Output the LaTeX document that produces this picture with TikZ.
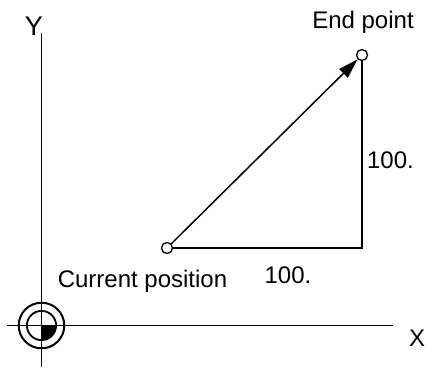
\documentclass[tikz,border=0pt]{standalone}
\usepackage{fontspec}
\setmainfont{Liberation Sans}
\usetikzlibrary{arrows.meta}
\begin{document}
\begin{tikzpicture}[x=1pt,y=-1pt,
  lbl/.style={inner sep=0pt,anchor=base,font=\fontsize{24}{28}\selectfont},
  ptmark/.style={circle,draw,fill=white,line width=1.3pt,minimum size=11pt,inner sep=0pt},
  ln/.style={line width=1.5pt},
  axis/.style={line width=1.4pt}]
\useasboundingbox (0,0) rectangle (427,367);
% axes
\coordinate (O) at (41.5,325.5);
\coordinate (ytop) at (41.5,33);
\coordinate (ybot) at (41.5,367);
\coordinate (xl) at (7,325.5);
\coordinate (xr) at (393,325.5);
\draw[axis] (ybot) -- (ytop);
\draw[axis] (xl) -- (xr);
% origin symbol
\draw[line width=2pt] (O) circle[radius=22.8];
\draw[line width=1.8pt] (O) circle[radius=14.6];
\fill (O) -- ++(14.6,0) arc[start angle=0,end angle=90,radius=14.6] -- cycle;
% points
\coordinate (corner) at (362,248);
\node[ptmark] (cur) at (167,248) {};
\node[ptmark] (end) at (362,55) {};
\draw[ln] (cur) -- (corner) -- (end);
\draw[ln,-{Triangle[length=20pt,width=12pt]}] (cur) -- (end);
% labels
\node[lbl,font=\fontsize{27}{30}\selectfont] (ylab) at (34,35) {Y};
\node[lbl] (xlab) at (417,346) {X};
\node[lbl] (endlab) at (363,28) {End point};
\node[lbl] (curlab) at (142.5,287.7) {Current position};
\node[lbl] (dy) at (390.5,168) {100.};
\node[lbl] (dx) at (288,283) {100.};
\end{tikzpicture}
\end{document}
